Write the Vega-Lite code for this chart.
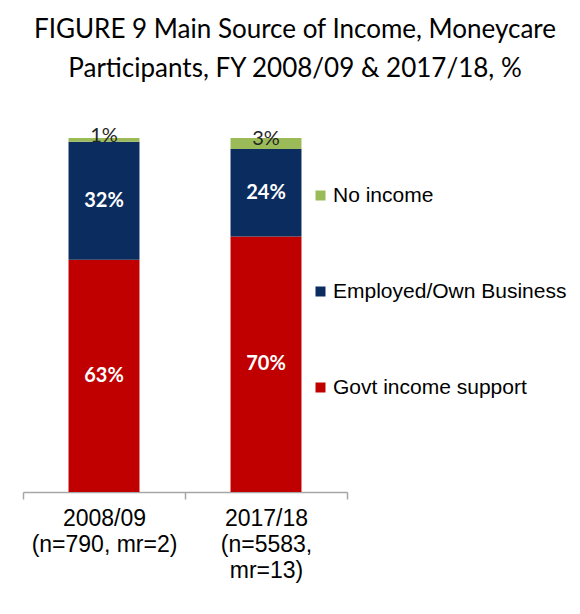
{
  "$schema": "https://vega.github.io/schema/vega-lite/v6.json",
  "autosize": {"type": "none"},
  "width": 324,
  "height": 354,
  "padding": {"left": 23, "top": 138, "right": 233, "bottom": 122},
  "background": "white",
  "title": {
    "text": ["FIGURE 9 Main Source of Income, Moneycare", "Participants, FY 2008/09 & 2017/18, %"],
    "font": "Lato",
    "fontSize": 26,
    "fontWeight": "normal",
    "color": "#000000",
    "lineHeight": 39,
    "anchor": "middle",
    "dx": 110,
    "offset": 44
  },
  "data": {
    "values": [
      {"period": "2008/09 (n=790, mr=2)", "source": "Govt income support", "k": 1, "value": 63},
      {"period": "2008/09 (n=790, mr=2)", "source": "Employed/Own Business", "k": 2, "value": 32},
      {"period": "2008/09 (n=790, mr=2)", "source": "No income", "k": 3, "value": 1},
      {"period": "2017/18 (n=5583, mr=13)", "source": "Govt income support", "k": 1, "value": 70},
      {"period": "2017/18 (n=5583, mr=13)", "source": "Employed/Own Business", "k": 2, "value": 24},
      {"period": "2017/18 (n=5583, mr=13)", "source": "No income", "k": 3, "value": 3}
    ]
  },
  "transform": [
    {"stack": "value", "groupby": ["period"], "sort": [{"field": "k", "order": "ascending"}], "offset": "normalize", "as": ["y0", "y1"]},
    {"calculate": "(datum.y0 + datum.y1) / 2", "as": "ym"},
    {"calculate": "format(datum.value, 'd') + '%'", "as": "label"}
  ],
  "encoding": {
    "x": {
      "field": "period",
      "type": "nominal",
      "sort": null,
      "scale": {"paddingInner": 0, "paddingOuter": 0},
      "axis": {
        "title": null,
        "labelAngle": 0,
        "labelFont": "Liberation Sans",
        "labelFontSize": 23,
        "labelColor": "#000000",
        "labelLineHeight": 26,
        "labelPadding": 8,
        "tickSize": 7,
        "tickBand": "extent",
        "tickColor": "#a6a6a6",
        "domainColor": "#a6a6a6",
        "domainWidth": 1.5,
        "tickWidth": 1.5,
        "labelExpr": "datum.value == '2008/09 (n=790, mr=2)' ? ['2008/09', '(n=790, mr=2)'] : datum.value == '2017/18 (n=5583, mr=13)' ? ['2017/18', '(n=5583,', 'mr=13)'] : ''"
      }
    }
  },
  "layer": [
    {
      "mark": {"type": "bar", "width": {"band": 0.438}},
      "encoding": {
        "y": {"field": "y0", "type": "quantitative", "scale": {"domain": [0, 1]}, "axis": null},
        "y2": {"field": "y1"},
        "color": {
          "field": "source",
          "type": "nominal",
          "scale": {
            "domain": ["No income", "Employed/Own Business", "Govt income support"],
            "range": ["#9BBB59", "#0B2C5F", "#C00000"]
          },
          "legend": {
            "title": null,
            "orient": "none",
            "legendX": 287,
            "legendY": 47,
            "symbolType": "square",
            "symbolSize": 100,
            "symbolStrokeWidth": 0,
            "labelFont": "Liberation Sans",
            "labelFontSize": 21,
            "labelColor": "#000000",
            "labelOffset": 2,
            "rowPadding": 74,
            "labelLimit": 300
          }
        }
      }
    },
    {
      "transform": [{"filter": "datum.source != 'No income'"}],
      "mark": {"type": "text", "font": "Lato", "fontSize": 20, "fontWeight": "bold", "color": "#ffffff", "baseline": "middle"},
      "encoding": {
        "y": {"field": "ym", "type": "quantitative"},
        "text": {"field": "label", "type": "nominal"}
      }
    },
    {
      "transform": [{"filter": "datum.source == 'No income'"}],
      "mark": {"type": "text", "font": "Lato", "fontSize": 20, "fontWeight": "normal", "color": "#262626", "baseline": "middle", "dy": -4},
      "encoding": {
        "y": {"field": "ym", "type": "quantitative"},
        "text": {"field": "label", "type": "nominal"}
      }
    }
  ],
  "config": {"view": {"stroke": null}}
}
